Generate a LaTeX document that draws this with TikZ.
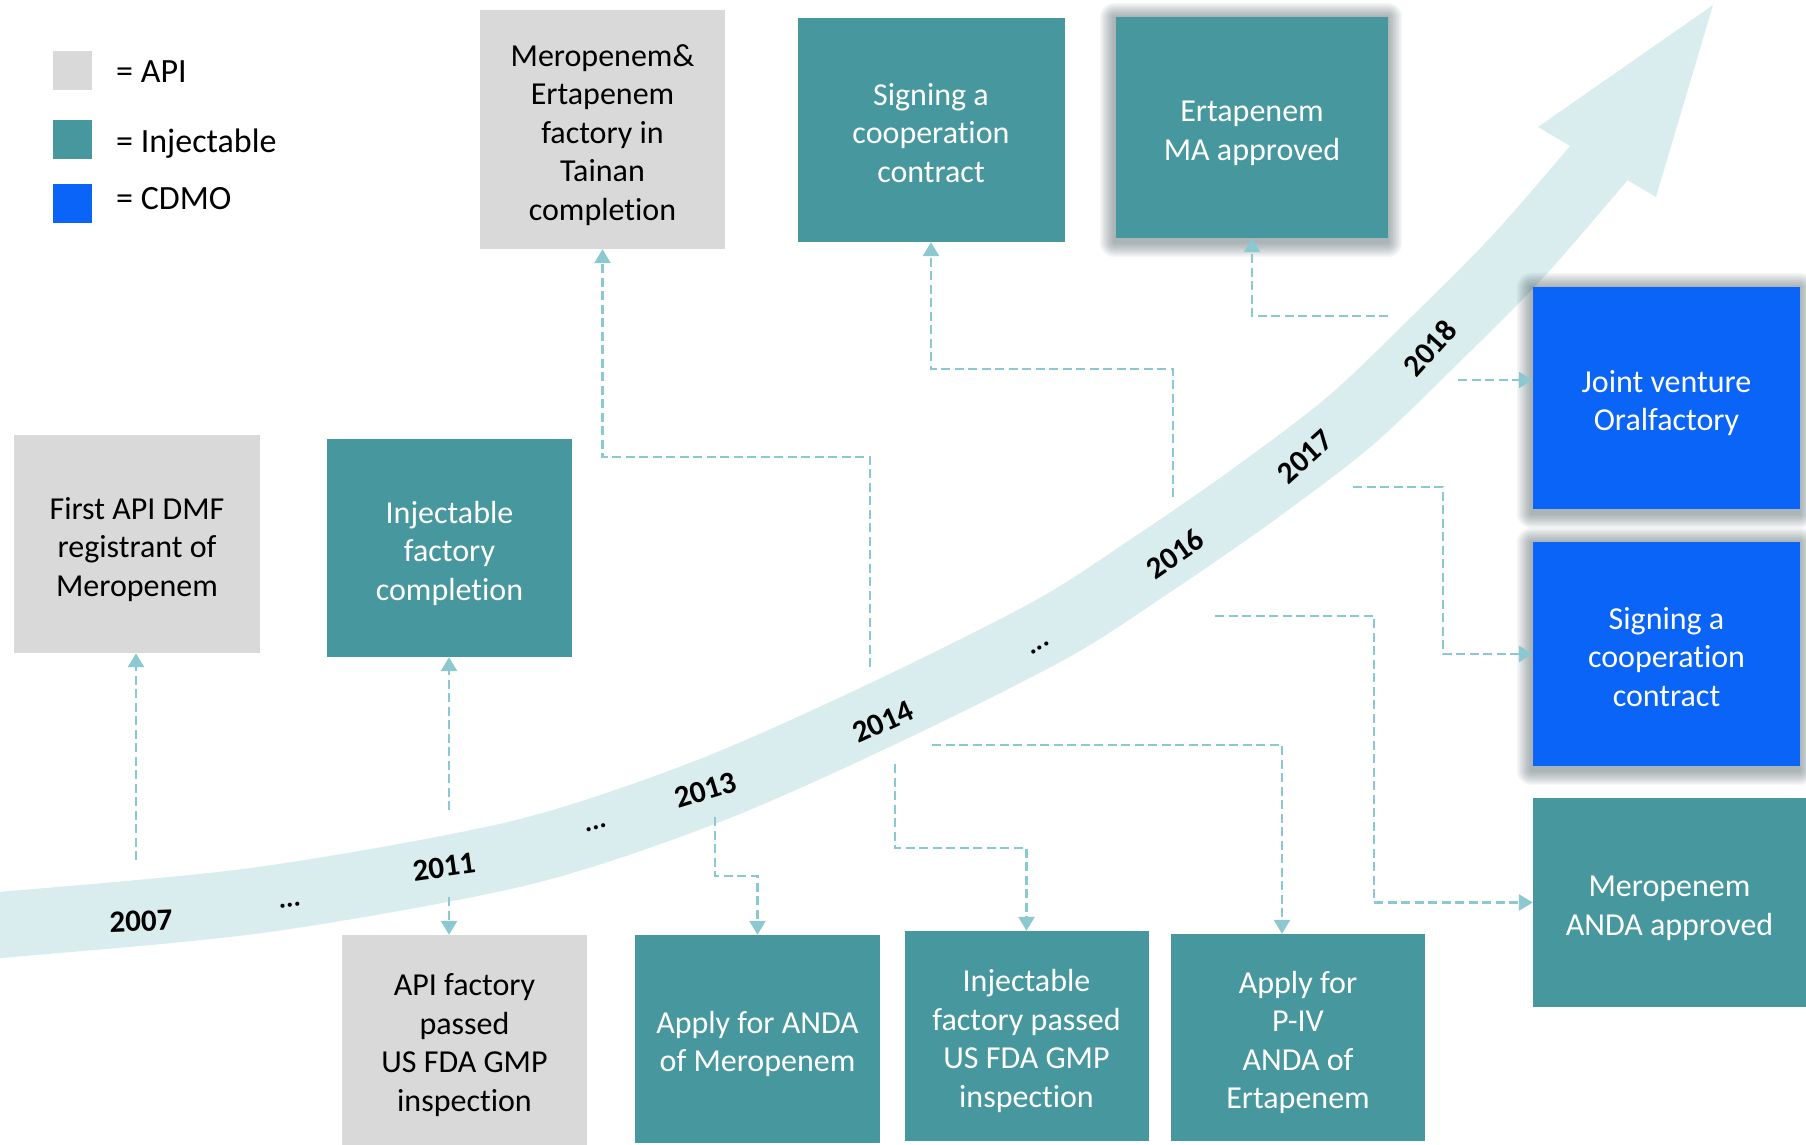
\documentclass[tikz,border=0pt]{standalone}
\usepackage{fontspec}
\setmainfont{Carlito}[Ligatures=NoCommon]
\usetikzlibrary{arrows.meta}

\definecolor{apigray}{RGB}{217,217,217}
\definecolor{injteal}{RGB}{71,151,159}
\definecolor{cdmoblue}{RGB}{9,100,247}
\definecolor{bandcol}{RGB}{218,237,238}
\definecolor{linkcol}{RGB}{140,200,208}
\definecolor{halocol}{RGB}{60,80,85}

\pgfdeclarelayer{bg}
\pgfdeclarelayer{halo}
\pgfsetlayers{bg,halo,main}

% centred lines of box text, set a little below the optical centre
\newcommand\boxtext[1]{\raisebox{-6pt}[\height][\depth]{%
  \begin{tabular}{@{}c@{}}#1\end{tabular}}}

\tikzset{
  box/.style={rectangle, inner sep=0pt,
    font=\fontsize{32}{38.5}\selectfont},
  api/.style={box, fill=apigray, text=black},
  inj/.style={box, fill=injteal, text=white},
  cdmo/.style={box, fill=cdmoblue, text=white},
  year/.style={inner sep=0pt, font=\fontsize{31}{36}\selectfont\bfseries},
  dots/.style={inner sep=0pt, font=\fontsize{28}{30}\selectfont\bfseries},
  link/.style={draw=linkcol, line width=2.8pt, dash pattern=on 9pt off 4.5pt,
    -{Triangle[length=14pt,width=16pt]}},
  keybox/.style={rectangle, inner sep=0pt, minimum size=39pt},
  keytext/.style={anchor=base west, inner sep=0pt,
    font=\fontsize{34}{40}\selectfont},
}

% soft shadow around a node
\newcommand\halo[1]{%
  \begin{pgfonlayer}{halo}
    \foreach \k in {1,...,10}{
      \pgfmathsetmacro\rr{1.5*\k}
      \fill[halocol, opacity=0.055, rounded corners=\rr pt]
        ([xshift=-\k*1.5pt-1pt, yshift=-\k*1.5pt-4pt]#1.south west)
        rectangle ([xshift=\k*1.5pt-1pt, yshift=\k*1.5pt-1pt]#1.north east);
    }
  \end{pgfonlayer}}

\begin{document}
\begin{tikzpicture}[x=1pt,y=-1pt]
\useasboundingbox (0,0) rectangle (1806,1145);

% legend
\node[keybox, fill=apigray] (kapi) at (72.5,70.5) {};
\node[keybox, fill=injteal] (kinj) at (72.5,139.5) {};
\node[keybox, fill=cdmoblue] (kcdmo) at (72.5,203.5) {};
\node[keytext] (tapi) at (116,83) {= API};
\node[keytext] (tinj) at (116,152) {= Injectable};
\node[keytext] (tcdmo) at (116,209) {= CDMO};

% milestone boxes
\node[api, minimum width=246pt, minimum height=218pt] (dmf) at (137,544)
  {\boxtext{First API DMF\\registrant of\\Meropenem}};
\node[inj, minimum width=245pt, minimum height=218pt] (injfac) at (449.5,548)
  {\boxtext{Injectable\\factory\\completion}};
\node[api, minimum width=245pt, minimum height=239pt] (tainan) at (602.5,129.5)
  {\boxtext{Meropenem\&\\Ertapenem\\factory in\\Tainan\\completion}};
\node[inj, minimum width=267pt, minimum height=224pt] (coopa) at (931,130)
  {\boxtext{Signing a\\cooperation\\contract}};
\node[inj, minimum width=272pt, minimum height=221pt] (ertma) at (1252,127.5)
  {\boxtext{Ertapenem\\MA approved}};
\node[cdmo, minimum width=267pt, minimum height=222pt] (jv) at (1666.5,398)
  {\boxtext{Joint venture\\Oralfactory}};
\node[cdmo, minimum width=267pt, minimum height=224pt] (coopb) at (1666.5,654)
  {\boxtext{Signing a\\cooperation\\contract}};
\node[inj, minimum width=273pt, minimum height=209pt] (anda) at (1669.5,902.5)
  {\boxtext{Meropenem\\ANDA approved}};
\node[api, minimum width=245pt, minimum height=210pt] (apigmp) at (464.5,1040)
  {\boxtext{API factory\\passed\\US FDA GMP\\inspection}};
\node[inj, minimum width=245pt, minimum height=208pt] (applym) at (757.5,1039)
  {\boxtext{Apply for ANDA\\of Meropenem}};
\node[inj, minimum width=244pt, minimum height=210pt] (injgmp) at (1026.5,1036)
  {\boxtext{Injectable\\factory passed\\US FDA GMP\\inspection}};
\node[inj, minimum width=254pt, minimum height=207pt] (applye) at (1298,1037.5)
  {\boxtext{Apply for\\P-IV\\ANDA of\\Ertapenem}};

\halo{ertma}
\halo{jv}
\halo{coopb}

% timeline band
\begin{pgfonlayer}{bg}
  \draw[bandcol, line width=66pt] plot[smooth, tension=0.5] coordinates {
    (-40,928) (0,925) (260,900) (520,853) (706,792) (880,715) (1050,630)
    (1150,566) (1250,497) (1350,421) (1441,334) (1521,253) (1610,150)};
  \fill[bandcol] (1538,127) -- (1713,5) -- (1656,197) -- cycle;
\end{pgfonlayer}

% years along the band
\node[year, rotate=2] (y2007) at (141,921) {2007};
\node[dots, rotate=6] (d1) at (290,905) {...};
\node[year, rotate=8] (y2011) at (444,867) {2011};
\node[dots, rotate=15] (d2) at (596,828) {...};
\node[year, rotate=17] (y2013) at (706,790) {2013};
\node[year, rotate=24] (y2014) at (883,722) {2014};
\node[dots, rotate=30] (d3) at (1040,648) {...};
\node[year, rotate=35] (y2016) at (1175,554) {2016};
\node[year, rotate=42] (y2017) at (1305,457) {2017};
\node[year, rotate=48] (y2018) at (1430,348) {2018};

% connectors
\coordinate (s07) at (136,860);
\draw[link] (s07) -- (s07 |- dmf.south);
\coordinate (s11u) at (449,810);
\draw[link] (s11u) -- (s11u |- injfac.south);
\coordinate (s11d) at (449,897);
\draw[link] (s11d) -- (s11d |- apigmp.north);
\coordinate (s14u) at (870,667);
\coordinate (b14u) at (870,457);
\draw[link] (s14u) -- (b14u) -| (tainan.south);
\coordinate (s16u) at (1173,497);
\coordinate (b16u) at (1173,369);
\draw[link] (s16u) -- (b16u) -| (coopa.south);
\coordinate (s18u) at (1388,316);
\draw[link] (s18u) -| (ertma.south);
\coordinate (s18r) at (1458,380);
\draw[link] (s18r) -- (s18r -| jv.west);
\coordinate (s17) at (1353,487);
\coordinate (b17) at (1443,487);
\draw[link] (s17) -- (b17) |- (coopb.west);
\coordinate (s16r) at (1215,616);
\coordinate (b16r) at (1374,616);
\draw[link] (s16r) -- (b16r) |- (anda.west);
\coordinate (s13) at (715,817);
\coordinate (b13) at (715,876);
\draw[link] (s13) -- (b13) -| (applym.north);
\coordinate (s14a) at (895,764);
\coordinate (b14a) at (895,848);
\draw[link] (s14a) -- (b14a) -| (injgmp.north);
\coordinate (s14b) at (932,745);
\coordinate (b14b) at (1282,745);
\draw[link] (s14b) -- (b14b) -- (b14b |- applye.north);
\end{tikzpicture}
\end{document}
